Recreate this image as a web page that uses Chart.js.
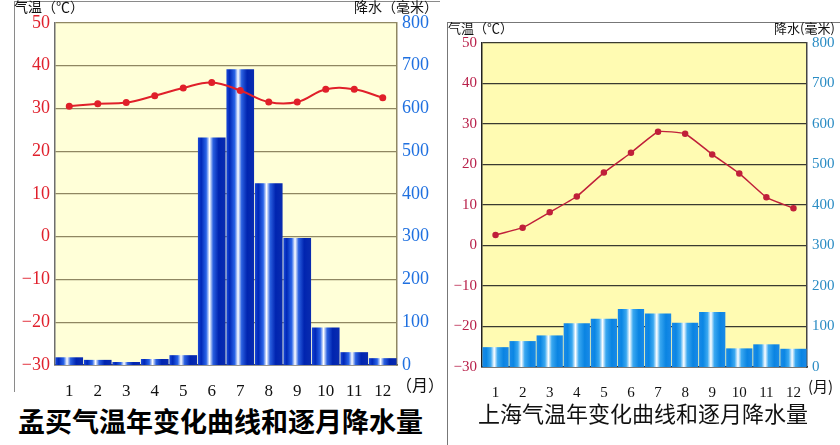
<!DOCTYPE html>
<html>
<head>
<meta charset="utf-8">
<script src="https://cdn.jsdelivr.net/npm/chart.js@4.4.1/dist/chart.umd.min.js"></script>
<style>
  html, body { margin: 0; padding: 0; background: #fff; }
  #wrap { position: relative; width: 840px; height: 445px; overflow: hidden; }
  .box { position: absolute; }
  .lbl { position: absolute; white-space: nowrap; color: #111; font-family: "Noto Sans CJK SC", sans-serif; }
  .line { position: absolute; background: #8a8a8a; }
</style>
</head>
<body>
<div id="wrap">
  <div class="line" style="left:14px;top:1px;width:426px;height:1px"></div>
  <div class="line" style="left:14px;top:1px;width:1px;height:391px"></div>
  <div class="line" style="left:447px;top:22px;width:393px;height:1px;background:#777"></div>
  <div class="line" style="left:447px;top:22px;width:1px;height:423px;background:#777"></div>

  <div class="box" style="left:0;top:0;width:440px;height:400px"><canvas id="c1"></canvas></div>
  <div class="box" style="left:440px;top:0;width:400px;height:400px"><canvas id="c2"></canvas></div>

  <div class="lbl" style="left:14px;top:-4px;font-size:14px">气温（℃）</div>
  <div class="lbl" style="left:354px;top:-4px;font-size:14px">降水（毫米）</div>
  <div class="lbl" style="left:396px;top:372px;font-size:16px">（月）</div>
  <div class="lbl" style="left:18px;top:401px;font-size:27px;font-weight:700;color:#000">孟买气温年变化曲线和逐月降水量</div>

  <div class="lbl" style="left:448px;top:18px;font-size:13px">气温（℃）</div>
  <div class="lbl" style="left:774px;top:18px;font-size:13px">降水(毫米)</div>
  <div class="lbl" style="left:808px;top:375px;font-size:15px">(月)</div>
  <div class="lbl" style="left:478px;top:396px;font-size:22px;color:#111">上海气温年变化曲线和逐月降水量</div>
</div>

<script>
// 月份
const months = ['1','2','3','4','5','6','7','8','9','10','11','12'];

// 孟买
const mumbaiTemp = [30.5, 31.1, 31.4, 33.0, 34.8, 36.1, 34.2, 31.5, 31.5, 34.5, 34.5, 32.5];
const mumbaiRain = [18, 12, 7, 14, 23, 532, 692, 425, 297, 88, 30, 16];

// 上海
const shanghaiTemp = [2.6, 4.4, 8.2, 12.1, 18.0, 22.9, 28.1, 27.6, 22.5, 17.8, 11.9, 9.2];
const shanghaiRain = [49, 64, 78, 108, 119, 143, 132, 109, 136, 46, 56, 45];

// 刻度
const tempTicks = [-30, -20, -10, 0, 10, 20, 30, 40, 50];
const rainTicks = [0, 100, 200, 300, 400, 500, 600, 700, 800];

function barFill(stops) {
  return c => {
    const chart = c.chart;
    const x = chart.scales.x;
    if (!x || !chart.chartArea) return stops[0][1];
    const cx = x.getPixelForValue(c.dataIndex);
    const w = (x.right - x.left) / months.length * 0.97;
    const g = chart.ctx.createLinearGradient(cx - w / 2, 0, cx + w / 2, 0);
    stops.forEach(([p, col]) => g.addColorStop(p, col));
    return g;
  };
}

const plotBg = {
  id: 'plotBg',
  beforeDraw(chart, args, opts) {
    const { ctx, chartArea: a } = chart;
    ctx.save();
    ctx.fillStyle = opts.color;
    ctx.fillRect(a.left, a.top, a.right - a.left, a.bottom - a.top);
    ctx.restore();
  }
};

function makeChart(id, cfg) {
  const serif = "'Liberation Serif', 'DejaVu Serif', serif";
  new Chart(document.getElementById(id), {
    data: {
      labels: months,
      datasets: [
        {
          type: 'line', data: cfg.temp, yAxisID: 'y', order: 0,
          borderColor: cfg.lineColor, borderWidth: cfg.lineWidth,
          pointBackgroundColor: cfg.lineColor, pointBorderColor: cfg.lineColor,
          pointRadius: 2.5, tension: cfg.tension
        },
        {
          type: 'bar', data: cfg.rain, yAxisID: 'y2', order: 1,
          backgroundColor: barFill(cfg.barStops),
          borderWidth: 0, categoryPercentage: 1, barPercentage: 0.97
        }
      ]
    },
    plugins: [plotBg],
    options: {
      responsive: true, maintainAspectRatio: false, animation: false,
      layout: { padding: { top: cfg.top, left: 0, right: 0, bottom: 0 } },
      plugins: {
        legend: { display: false }, tooltip: { enabled: false },
        plotBg: { color: cfg.bg }
      },
      scales: {
        x: {
          grid: { display: false },
          border: { color: cfg.bottomBorder, width: 1.5 },
          ticks: { color: '#111', font: { family: serif, size: cfg.xFont }, padding: cfg.xPad, maxRotation: 0 },
          afterFit: s => { s.height = cfg.xHeight; }
        },
        y: {
          position: 'left', min: -30, max: 50,
          afterBuildTicks: s => { s.ticks = tempTicks.map(v => ({ value: v })); },
          grid: { color: cfg.gridColor, lineWidth: 1.3, drawTicks: false },
          border: { color: cfg.leftBorder, width: 1.5 },
          ticks: { color: cfg.tempTick, font: { family: serif, size: cfg.yFont }, padding: 5,
                   callback: v => v < 0 ? '\u2212' + Math.abs(v) : v },
          afterFit: s => { s.width = cfg.leftW; }
        },
        y2: {
          position: 'right', min: 0, max: 800,
          afterBuildTicks: s => { s.ticks = rainTicks.map(v => ({ value: v })); },
          grid: { display: false, drawTicks: false },
          border: { color: cfg.rightBorder, width: 1.5 },
          ticks: { color: cfg.rainTick, font: { family: serif, size: cfg.yFont }, padding: 5 },
          afterFit: s => { s.width = cfg.rightW; }
        }
      }
    }
  });
}

makeChart('c1', {
  temp: mumbaiTemp, rain: mumbaiRain,
  top: 23, xHeight: 35, leftW: 55, rightW: 43,
  bg: '#ffffd8', gridColor: '#8f8762',
  leftBorder: '#6e6e6e', bottomBorder: '#4a4a4a', rightBorder: '#8f8762',
  lineColor: '#e0202a', lineWidth: 2, tension: 0.4,
  tempTick: '#e0202c', rainTick: '#1f70e0',
  xFont: 17, yFont: 18, xPad: 8,
  barStops: [[0, '#1a48d8'], [0.12, '#0028b8'], [0.3, '#2a64e8'], [0.42, '#ffffff'], [0.55, '#2a60e0'], [0.75, '#0024b0'], [1, '#0a2cb0']]
});

makeChart('c2', {
  temp: shanghaiTemp, rain: shanghaiRain,
  top: 43, xHeight: 33, leftW: 42, rightW: 33,
  bg: '#fffbb2', gridColor: '#3a3a30',
  leftBorder: '#222', bottomBorder: '#222', rightBorder: '#444',
  lineColor: '#c0203a', lineWidth: 1.5, tension: 0.12,
  tempTick: '#b8204a', rainTick: '#2a8cc4',
  xFont: 15, yFont: 15, xPad: 9,
  barStops: [[0, '#1a8ae8'], [0.15, '#0a86e4'], [0.32, '#3aa8f0'], [0.45, '#ffffff'], [0.58, '#3aa8f0'], [0.8, '#0a84e2'], [1, '#1a8ae8']]
});
</script>
</body>
</html>
